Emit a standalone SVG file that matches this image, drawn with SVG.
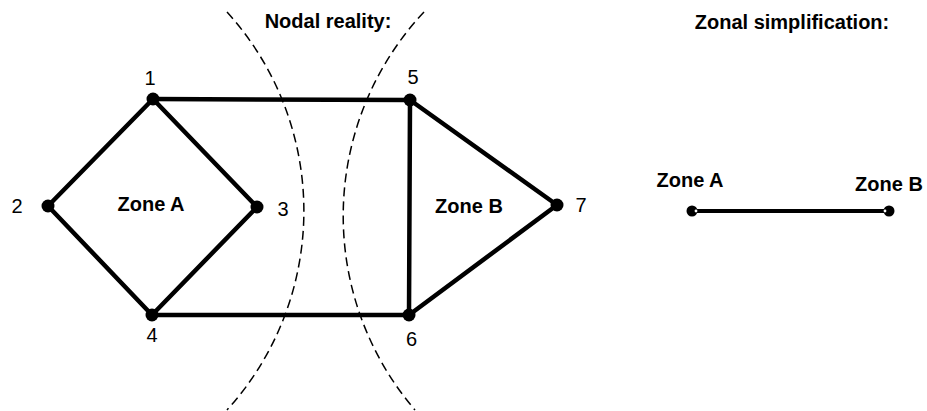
<svg xmlns="http://www.w3.org/2000/svg" width="927" height="411" viewBox="0 0 927 411">
<style>
.edge{stroke:#000;stroke-width:4.5;fill:none;stroke-linecap:round}
.dash{stroke:#000;stroke-width:1.5;fill:none;stroke-dasharray:9 5}
.dot{fill:#000}
.num{font-family:"Liberation Sans",Arial,sans-serif;font-size:20px;fill:#000;text-anchor:middle}
.bold{font-family:"Liberation Sans",Arial,sans-serif;font-size:20px;font-weight:bold;fill:#000;text-anchor:middle}
</style>
<rect width="927" height="411" fill="#fff"/>
<g id="boundaries">
<path class="dash" d="M227,12 A296,296 0 0 1 227,410"/>
<path class="dash" d="M424,12 A298,298 0 0 0 415,410"/>
</g>
<text class="bold" x="328" y="28">Nodal reality:</text>
<text class="bold" x="792" y="29">Zonal simplification:</text>
<g id="connectors">
<line class="edge" x1="153" y1="99" x2="48" y2="206"/>
<line class="edge" x1="153" y1="99" x2="257" y2="207"/>
<line class="edge" x1="48" y1="206" x2="152" y2="315"/>
<line class="edge" x1="257" y1="207" x2="152" y2="315"/>
<line class="edge" x1="153" y1="99" x2="410" y2="100"/>
<line class="edge" x1="152" y1="315" x2="409" y2="315"/>
<line class="edge" x1="410" y1="100" x2="409" y2="315"/>
<line class="edge" x1="410" y1="100" x2="557" y2="205"/>
<line class="edge" x1="409" y1="315" x2="557" y2="205"/>
<line class="edge" x1="692" y1="211" x2="889" y2="211" style="stroke-width:4"/>
</g>
<g id="node1"><circle class="dot" cx="153" cy="99" r="6.5"/><text class="num" x="150" y="85">1</text></g>
<g id="node2"><circle class="dot" cx="48" cy="206" r="6.5"/><text class="num" x="17" y="213">2</text></g>
<g id="node3"><circle class="dot" cx="257" cy="207" r="6.5"/><text class="num" x="283" y="216">3</text></g>
<g id="node4"><circle class="dot" cx="152" cy="315" r="6.5"/><text class="num" x="152" y="342">4</text></g>
<g id="node5"><circle class="dot" cx="410" cy="100" r="6.5"/><text class="num" x="413" y="84">5</text></g>
<g id="node6"><circle class="dot" cx="409" cy="315" r="6.5"/><text class="num" x="411.5" y="346">6</text></g>
<g id="node7"><circle class="dot" cx="557" cy="205" r="6.5"/><text class="num" x="581" y="212">7</text></g>
<g id="zoneA"><text class="bold" x="151" y="211">Zone A</text></g>
<g id="zoneB"><text class="bold" x="469" y="213">Zone B</text></g>
<g id="zonalA"><circle class="dot" cx="692" cy="211" r="5.5"/><circle cx="696" cy="211" r="1.4" fill="#fff"/><text class="bold" x="690" y="187">Zone A</text></g>
<g id="zonalB"><circle class="dot" cx="889" cy="211" r="5.5"/><circle cx="885" cy="211" r="1.4" fill="#fff"/><text class="bold" x="889" y="191">Zone B</text></g>
</svg>
